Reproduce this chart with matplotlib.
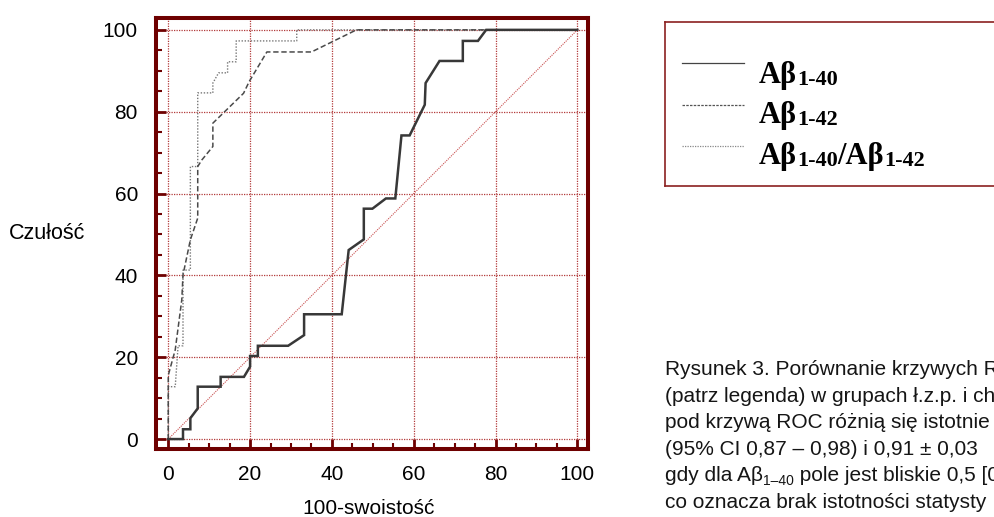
import matplotlib.pyplot as plt
from matplotlib.lines import Line2D
from matplotlib.ticker import MultipleLocator

# ROC curves: x = 100-swoistosc, y = czulosc
ab40_x = [0, 3.6, 3.6, 5.4, 5.4, 7.2, 7.2, 12.8, 12.8, 18.5, 20.0, 20.0, 21.9, 21.9, 29.3, 33.2, 33.2,
          42.4, 44.1, 47.8, 47.8, 49.9, 53.2, 55.5, 57.0, 59.0, 62.7, 62.9, 66.3, 72.0, 72.0, 75.7, 77.7, 100]
ab40_y = [0, 0, 2.4, 2.4, 5.1, 7.5, 12.8, 12.8, 15.2, 15.2, 17.7, 20.3, 20.3, 22.8, 22.8, 25.4, 30.5,
          30.5, 46.2, 48.8, 56.3, 56.3, 58.8, 58.8, 74.2, 74.2, 81.7, 87.0, 92.4, 92.4, 97.3, 97.3, 100, 100]

ab42_x = [0, 0, 1.7, 3.3, 3.6, 5.4, 7.2, 7.2, 8.2, 10.9, 10.9, 18.4, 19.8, 24.1, 35.0, 46.0, 100]
ab42_y = [0, 15.6, 21.8, 34.0, 40.1, 48.7, 54.0, 66.6, 68.2, 71.5, 77.2, 84.5, 87.4, 94.6, 94.6, 100, 100]

ratio_x = [0, 0, 1.7, 2.4, 3.6, 3.6, 5.4, 5.4, 7.2, 7.2, 10.9, 10.9, 12.3, 14.5, 14.5, 16.6, 16.6, 31.4, 31.4, 100]
ratio_y = [0, 12.8, 12.8, 22.8, 22.8, 41.3, 41.3, 66.6, 66.6, 84.6, 84.6, 87.0, 89.5, 89.5, 92.2, 92.2, 97.3,
           97.3, 100, 100]

ref_x = [0, 100]
ref_y = [0, 100]

ticks = [0, 20, 40, 60, 80, 100]
ylabel = "Czułość"
xlabel = "100-swoistość"

legend_rows = [
    [("Aβ", 22, 0), ("1-40", 16, 2)],
    [("Aβ", 22, 0), ("1-42", 16, 2)],
    [("Aβ", 22, 0), ("1-40", 16, 2), ("/Aβ", 22, 0), ("1-42", 16, 2)],
]

caption = [
    [("Rysunek 3. Porównanie krzywych R", 15, 0)],
    [("(patrz legenda) w grupach ł.z.p. i ch", 15, 0)],
    [("pod krzywą ROC różnią się istotnie", 15, 0)],
    [("(95% CI 0,87 – 0,98) i 0,91 ± 0,03", 15, 0)],
    [("gdy dla Aβ", 15, 0), ("1–40", 10, 4), (" pole jest bliskie 0,5 [0", 15, 0)],
    [("co oznacza brak istotności statysty", 15, 0)],
]

W, H = 995, 517
DARK_RED = "#6e0000"
GRID_RED = "#b23a3a"

plt.rcParams['font.family'] = ['Liberation Sans', 'DejaVu Sans']

fig = plt.figure(figsize=(W / 100, H / 100), dpi=100)
ax = fig.add_axes([156 / W, 1 - 449.3 / H, 432 / W, 431.3 / H])

ax.plot(ref_x, ref_y, color="#c85050", lw=0.8, dashes=(1, 1))
ax.plot(ratio_x, ratio_y, color="#777777", lw=1.0, dashes=(1, 1.2))
ax.plot(ab42_x, ab42_y, color="#4a4a4a", lw=1.1, dashes=(3.5, 1.8))
ax.plot(ab40_x, ab40_y, color="#383838", lw=1.8, solid_joinstyle='miter')

ax.set_xlim(-3.0, 102.6)
ax.set_ylim(-2.5, 102.9)
ax.set_xticks(ticks)
ax.set_yticks(ticks)
ax.xaxis.set_minor_locator(MultipleLocator(5))
ax.yaxis.set_minor_locator(MultipleLocator(5))
ax.grid(True, which='major', color=GRID_RED, lw=0.9, linestyle=(0, (1, 1)))
ax.tick_params(which='both', direction='in', color=DARK_RED, top=False, right=False)
ax.tick_params(which='major', length=7.5, width=2, labelsize=15, pad=11)
ax.tick_params(axis='y', which='major', pad=13)
ax.tick_params(which='minor', length=4.5, width=1.5)
for sp in ax.spines.values():
    sp.set_color(DARK_RED)
    sp.set_linewidth(2.9)

fig.text(9 / W, 1 - 239 / H, ylabel, fontsize=15.5, va='baseline', ha='left')
fig.text(302 / W, 1 - 514 / H, xlabel, fontsize=15, va='baseline', ha='left')

renderer = fig.canvas.get_renderer()


def write(parts, x, y, **kw):
    for s, size, dy in parts:
        t = fig.text(x / W, 1 - (y + dy) / H, s, fontsize=size, va='baseline', ha='left', **kw)
        x = t.get_window_extent(renderer).x1


# legend box (runs off the right edge)
box = dict(color="#8b2020", lw=1.2, transform=fig.transFigure)
fig.add_artist(Line2D([665 / W, 1], [1 - 22 / H, 1 - 22 / H], **box))
fig.add_artist(Line2D([665 / W, 1], [1 - 186 / H, 1 - 186 / H], **box))
fig.add_artist(Line2D([665 / W, 665 / W], [1 - 22 / H, 1 - 186 / H], **box))

handles = [dict(color="#444444", lw=0.9),
           dict(color="#555555", lw=0.9, dashes=(2, 1)),
           dict(color="#888888", lw=0.9, dashes=(1, 1))]
for i, (row, hs) in enumerate(zip(legend_rows, handles)):
    yl = 63 + 41.5 * i
    fig.add_artist(Line2D([682 / W, 744 / W], [1 - yl / H, 1 - yl / H], transform=fig.transFigure, **hs))
    write(row, 759, 82.7 + 40.5 * i, family=['Liberation Serif', 'DejaVu Serif'], weight='bold')

for i, row in enumerate(caption):
    write(row, 665, 375 + 26.6 * i, color="#151515")

fig.savefig("out.png", dpi=100)
